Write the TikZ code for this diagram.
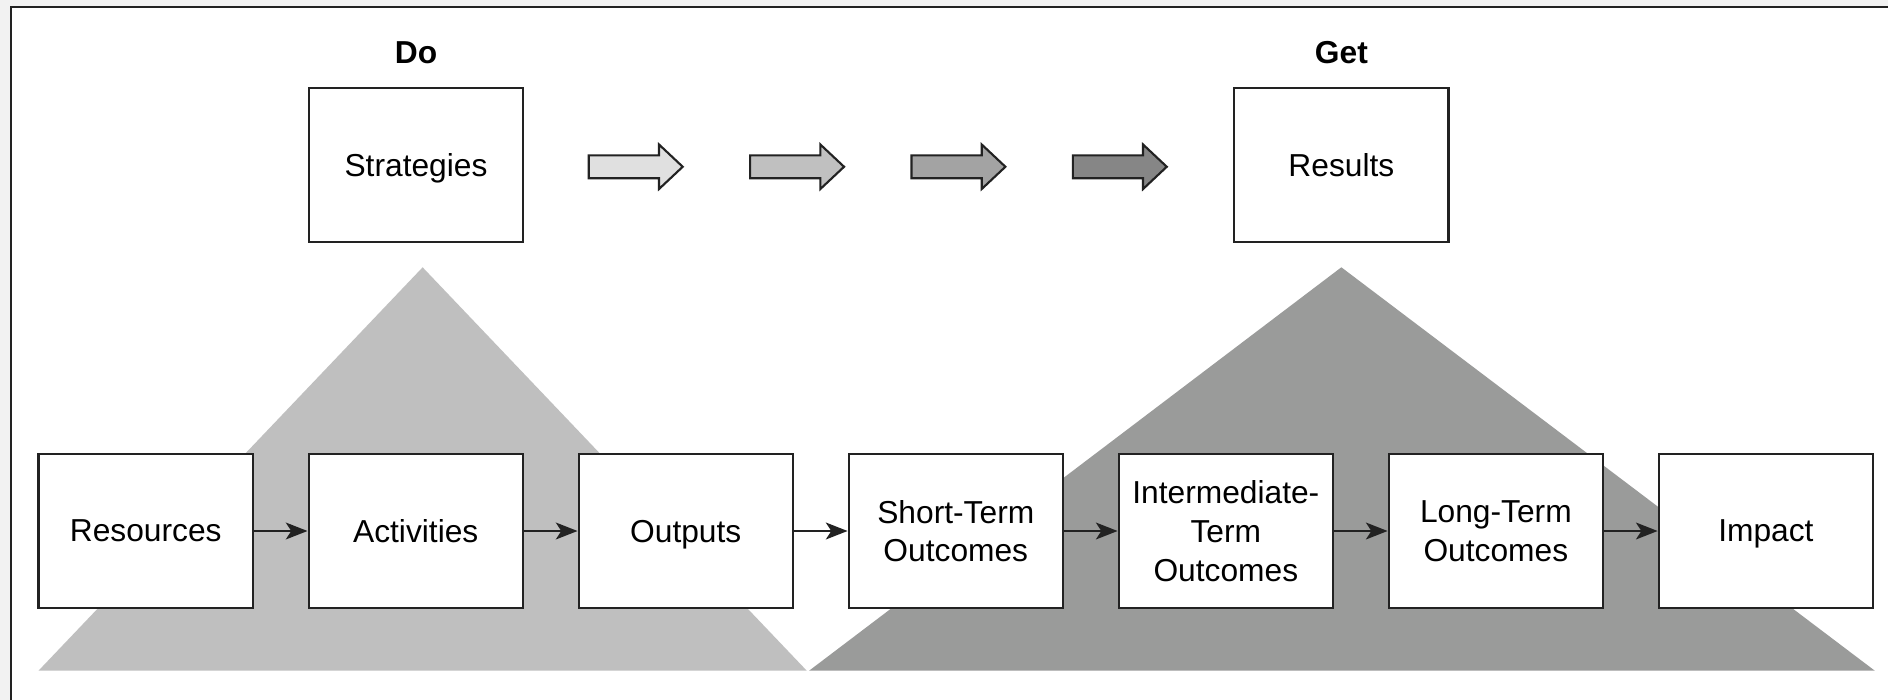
\documentclass[tikz,border=0pt]{standalone}
\usepackage{fontspec}
\setmainfont{Liberation Sans}
\usetikzlibrary{arrows.meta, positioning}

\definecolor{panelgray}{HTML}{F2F2F2}
\definecolor{edgegray}{HTML}{222222}
\definecolor{doside}{HTML}{BFBFBF}
\definecolor{getside}{HTML}{9A9B9A}
\definecolor{shadeA}{HTML}{E0E0E0}
\definecolor{shadeB}{HTML}{C0C0C0}
\definecolor{shadeC}{HTML}{A3A3A3}
\definecolor{shadeD}{HTML}{868686}

\tikzset{
  stage/.style={draw=edgegray, line width=1pt, fill=white, minimum width=3.56cm,
    minimum height=2.56cm, align=center, inner sep=0pt, text depth=0pt},
  heading/.style={font=\fontsize{15}{18}\selectfont\bfseries},
  flow/.style={-{Stealth[length=3.6mm, width=2.8mm, inset=0.9mm]}, line width=1pt, draw=edgegray}
}

\begin{document}
\begin{tikzpicture}[x=0.2mm, y=-0.2mm, every node/.style={font=\fontsize{15}{18.2}\selectfont}]
			\useasboundingbox (0,0) rectangle (1568,581);

			% Draw the frame
			\fill[panelgray] (0,0) rectangle (1568,581);
			\fill[white] (9,6) rectangle (1568,581);
			\draw[edgegray, line width=1.2pt] (9,581) -- (9,6) -- (1568,6);

			% Draw the two big triangles behind the boxes
			\fill[doside] (351,222) -- (670,557) -- (32,557) -- cycle;
			\fill[getside] (1114,222) -- (1557,557) -- (672,557) -- cycle;

			% Top row
			\node[heading] (do) at (345.5,44) {Do};
			\node[heading] (get) at (1114,44) {Get};
			\node[stage] (strategies) at (345.5,137) {Strategies};
			\node[stage] (results) at (1114,137) {Results};

			% Draw the shaded block arrows between the top boxes
			\foreach \shade/\tx in {shadeA/489, shadeB/623, shadeC/757, shadeD/891}
				\draw[fill=\shade, draw=edgegray, line width=1pt]
					(\tx,129) -- (\tx+58.3,129) -- (\tx+58.3,120) -- (\tx+78,138.5)
					-- (\tx+58.3,157) -- (\tx+58.3,148) -- (\tx,148) -- cycle;

			% Bottom row of boxes
			\node[stage] (resources) at (121,441) {Resources};
			\node[stage, right=0.89cm of resources] (activities) {Activities};
			\node[stage, right=0.89cm of activities] (outputs) {Outputs};
			\node[stage, right=0.89cm of outputs] (shortterm) {Short-Term\\Outcomes};
			\node[stage, right=0.89cm of shortterm] (midterm) {Intermediate-\\Term\\Outcomes};
			\node[stage, right=0.89cm of midterm] (longterm) {Long-Term\\Outcomes};
			\node[stage, right=0.89cm of longterm] (impact) {Impact};

			% Draw the arrows between the bottom boxes
			\draw[flow] (resources) -- (activities);
			\draw[flow] (activities) -- (outputs);
			\draw[flow] (outputs) -- (shortterm);
			\draw[flow] (shortterm) -- (midterm);
			\draw[flow] (midterm) -- (longterm);
			\draw[flow] (longterm) -- (impact);

		\end{tikzpicture}
\end{document}
